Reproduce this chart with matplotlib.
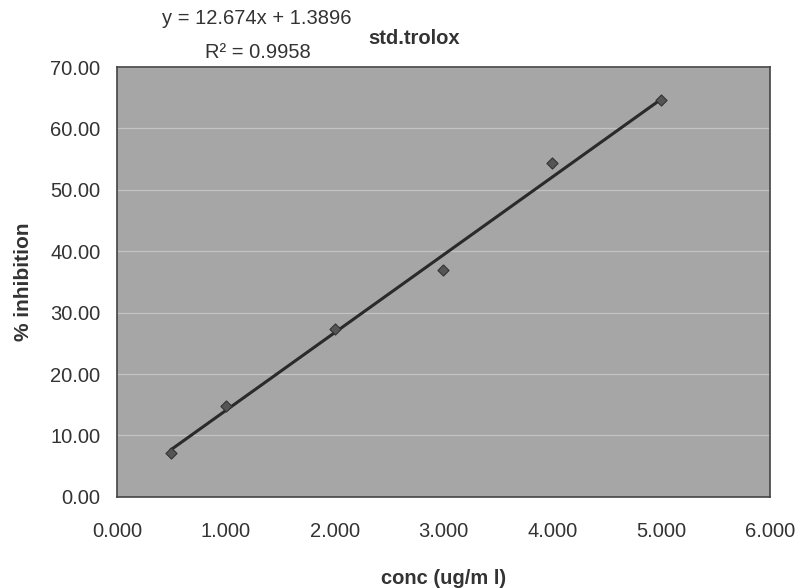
import matplotlib
matplotlib.use("Agg")
from matplotlib import pyplot as plt
import numpy as np

plt.rcParams['font.family'] = ['Liberation Sans', 'DejaVu Sans']

conc = [0.5, 1.0, 2.0, 3.0, 4.0, 5.0]
inhibition = [7.2, 14.8, 27.4, 37.0, 54.3, 64.7]
slope = 12.674
intercept = 1.3896
r2 = 0.9958

fig = plt.figure(figsize=(8.05, 5.88), dpi=100)
ax = fig.add_axes([0.1453, 0.155, 0.8112, 0.731])
ax.set_facecolor('#a6a6a6')

ax.grid(axis='y', color='#c4c4c4', linewidth=0.9)
ax.set_axisbelow(True)

# linear trendline from the printed equation
xfit = np.array([min(conc), max(conc)])
ax.plot(xfit, slope * xfit + intercept, color='#2a2a2a', linewidth=2.2, zorder=3)
ax.scatter(conc, inhibition, marker='D', s=32, color='#555555',
           edgecolors='#333333', linewidths=0.8, zorder=4)

ax.set_xlim(0, 6)
ax.set_ylim(0, 70)
ax.set_xticks(np.arange(0, 7, 1))
ax.set_xticklabels([f'{v:.3f}' for v in np.arange(0, 7, 1)])
ax.set_yticks(np.arange(0, 80, 10))
ax.set_yticklabels([f'{v:.2f}' for v in np.arange(0, 80, 10)])
ax.tick_params(axis='both', labelsize=14.5, colors='#333333', length=0, pad=12)
ax.tick_params(axis='x', pad=18)
for s in ax.spines.values():
    s.set_color('#444444')
    s.set_linewidth(1.2)

ax.set_xlabel('conc (ug/m l)', fontsize=14.5, fontweight='bold', color='#333333', labelpad=20)
ax.set_ylabel('% inhibition', fontsize=15, fontweight='bold', color='#333333', labelpad=12)

fig.text(162 / 805, 1 - 18 / 588, f'y = {slope}x + {intercept}', fontsize=14.5,
         color='#333333', ha='left', va='center')
fig.text(205 / 805, 1 - 52 / 588, f'R² = {r2}', fontsize=14.5,
         color='#333333', ha='left', va='center')
fig.text(368 / 805, 1 - 38 / 588, 'std.trolox', fontsize=14.5, fontweight='bold',
         color='#333333', ha='left', va='center')

fig.savefig('out.png', dpi=100)
